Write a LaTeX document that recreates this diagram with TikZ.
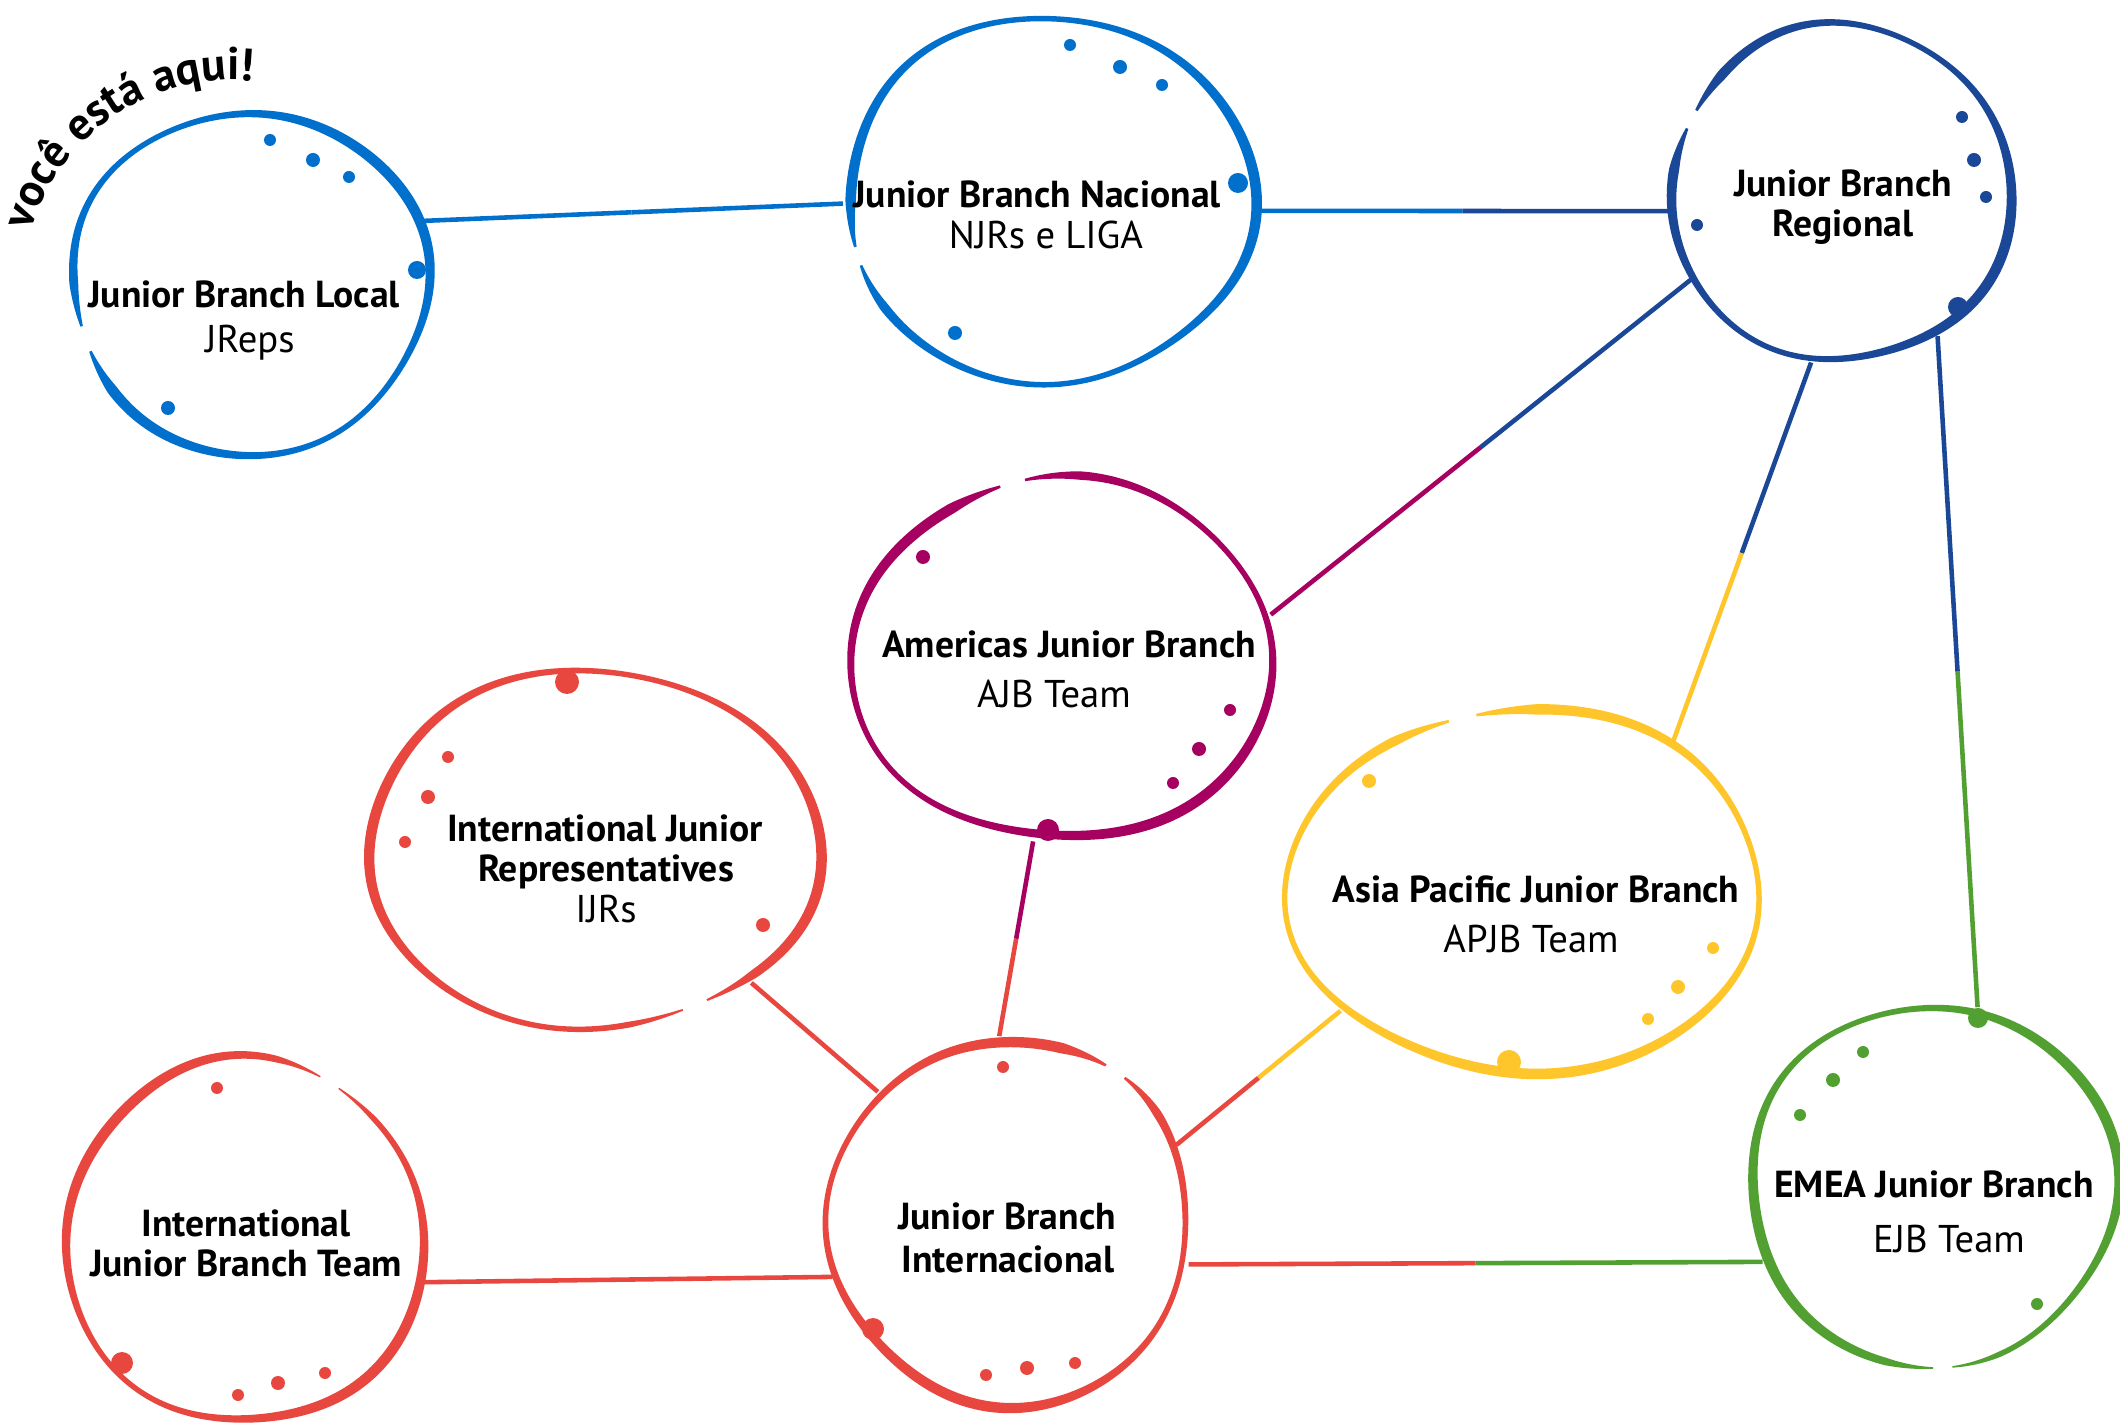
\documentclass[tikz,border=0pt]{standalone}
\usepackage{fontspec}
\setmainfont{PT Sans}
\usetikzlibrary{shapes.geometric,decorations.text}
\definecolor{cblue}{HTML}{0070CC}
\definecolor{cnavy}{HTML}{1B4797}
\definecolor{cmag}{HTML}{A60060}
\definecolor{cyel}{HTML}{FFC62B}
\definecolor{cgrn}{HTML}{52A032}
\definecolor{cred}{HTML}{E8473F}
% hand-drawn ring: cx cy rx ry colour start end phase
\newcommand\ring[8]{%
  \fill[#5] plot[smooth, domain=#6:#7, samples=120, variable=\u]
    ({#1+(#3*wob(\u,#8)+hw(\u,#6,#7,#8))*cos(\u)},{#2-(#4*wob(\u,#8)+hw(\u,#6,#7,#8))*sin(\u)})
    -- plot[smooth, domain=#7:#6, samples=120, variable=\u]
    ({#1+(#3*wob(\u,#8)-hw(\u,#6,#7,#8))*cos(\u)},{#2-(#4*wob(\u,#8)-hw(\u,#6,#7,#8))*sin(\u)})
    -- cycle;}
% two-coloured connector: from, to, colour A, colour B, midpoint name
\newcommand\link[5]{%
  \path (#1) -- (#2) coordinate[pos=.5] (#5);
  \draw[conn,#3] (#1) -- (#5);
  \draw[conn,#4] (#5) -- (#2);}
\newcommand\blob[4]{\fill[#1] (#2,#3) circle[radius=#4];}
\begin{document}
\begin{tikzpicture}[x=0.01cm,y=-0.01cm,
  declare function={
    wob(\t,\p)=1+0.016*sin(3*\t+\p)+0.007*sin(5*\t+2*\p);
    hw(\t,\a,\b,\p)=(4.0+1.3*sin(2*\t+\p))*min(1,0.25+(\t-\a)/20,0.25+(\b-\t)/20);
  },
  hub/.style={ellipse, inner sep=0pt, outer sep=0pt},
  conn/.style={line width=1.3pt},
  ttl/.style={anchor=base, inner sep=0pt, font=\bfseries\fontsize{10.7}{12}\selectfont, text=black},
  sub/.style={anchor=base, inner sep=0pt, font=\fontsize{11}{12}\selectfont, text=black},
]
\useasboundingbox (0,0) rectangle (2120,1428);
\fill[white] (0,0) rectangle (2120,1428);

% hub nodes (outline drawn separately)
\node[hub, minimum width=3.64cm, minimum height=3.50cm] (L) at (250,283) {};
\node[hub, minimum width=4.14cm, minimum height=3.74cm] (N) at (1050,200) {};
\node[hub, minimum width=3.48cm, minimum height=3.44cm] (R) at (1841,193) {};
\node[hub, minimum width=4.30cm, minimum height=3.68cm] (A) at (1062,659) {};
\node[hub, minimum width=4.82cm, minimum height=3.72cm] (P) at (1525,891) {};
\node[hub, minimum width=3.74cm, minimum height=3.68cm] (E) at (1933,1186) {};
\node[hub, minimum width=4.60cm, minimum height=3.66cm] (J) at (593,850) {};
\node[hub, minimum width=3.66cm, minimum height=3.72cm] (T) at (245,1241) {};
\node[hub, minimum width=3.68cm, minimum height=3.74cm] (I) at (1009,1223) {};

% connectors
\link{L.20}{N.181}{cblue}{cblue}{m1}
\link{N.357}{R.186}{cblue}{cnavy}{m2}
\link{R.210}{A.12}{cnavy}{cmag}{m3}
\link{R.260}{P.45}{cnavy}{cyel}{m4}
\link{R.304}{E.76}{cnavy}{cgrn}{m5}
\link{A.261}{I.93}{cmag}{cred}{m6}
\link{J.320}{I.135}{cred}{cred}{m7}
\link{P.213}{I.25}{cyel}{cred}{m8}
\link{T.347}{I.197}{cred}{cred}{m9}
\link{I.347}{E.204}{cred}{cgrn}{m10}

% rings
\ring{250}{283}{178}{171}{cblue}{204}{555}{20}
\ring{1050}{200}{203}{183}{cblue}{201}{555}{80}
\ring{1841}{193}{170}{168}{cnavy}{157}{510}{140}
\ring{1062}{659}{211}{180}{cmag}{107}{460}{200}
\ring{1525}{891}{237}{182}{cyel}{109}{462}{260}
\ring{1933}{1186}{183}{180}{cgrn}{276}{630}{40}
\ring{593}{850}{226}{179}{cred}{301}{654}{110}
\ring{245}{1241}{179}{182}{cred}{65}{418}{170}
\ring{1009}{1223}{180}{183}{cred}{58}{411}{300}

% decorative dots
\blob{cblue}{270}{140}{6}\blob{cblue}{313}{160}{7}\blob{cblue}{349}{177}{6}
\blob{cblue}{417}{270}{9}\blob{cblue}{168}{408}{7}
\blob{cblue}{1070}{45}{6}\blob{cblue}{1120}{67}{7}\blob{cblue}{1162}{85}{6}
\blob{cblue}{1238}{183}{10}\blob{cblue}{955}{333}{7}
\blob{cnavy}{1962}{117}{6}\blob{cnavy}{1974}{160}{7}\blob{cnavy}{1986}{197}{6}
\blob{cnavy}{1697}{225}{6}\blob{cnavy}{1958}{307}{10}
\blob{cmag}{923}{557}{7}\blob{cmag}{1230}{710}{6}\blob{cmag}{1199}{749}{7}
\blob{cmag}{1173}{783}{6}\blob{cmag}{1048}{830}{11}
\blob{cyel}{1369}{781}{7}\blob{cyel}{1713}{948}{6}\blob{cyel}{1678}{987}{7}
\blob{cyel}{1648}{1019}{6}\blob{cyel}{1509}{1062}{12}
\blob{cgrn}{1863}{1052}{6}\blob{cgrn}{1833}{1080}{7}\blob{cgrn}{1800}{1115}{6}
\blob{cgrn}{2037}{1304}{6}\blob{cgrn}{1978}{1018}{10}
\blob{cred}{567}{682}{12}\blob{cred}{448}{757}{6}\blob{cred}{428}{797}{7}
\blob{cred}{405}{842}{6}\blob{cred}{763}{925}{7}
\blob{cred}{217}{1088}{6}\blob{cred}{122}{1363}{11}\blob{cred}{238}{1395}{6}
\blob{cred}{278}{1383}{7}\blob{cred}{325}{1373}{6}
\blob{cred}{1003}{1067}{6}\blob{cred}{873}{1329}{11}\blob{cred}{986}{1375}{6}
\blob{cred}{1027}{1368}{7}\blob{cred}{1075}{1363}{6}

% texts
\node[ttl] (Lt) at (244,308) {Junior Branch Local};
\node[sub] (Ls) at (250,353) {JReps};
\node[ttl] (Nt) at (1037,208) {Junior Branch Nacional};
\node[sub] (Ns) at (1046,249) {NJRs e LIGA};
\node[ttl] (Rt) at (1843,197) {Junior Branch};
\node[ttl] (Rt2) at (1843,237) {Regional};
\node[ttl] (At) at (1069,658) {Americas Junior Branch};
\node[sub] (As) at (1054,708) {AJB Team};
\node[ttl] (Pt) at (1536,903) {Asia Pacific Junior Branch};
\node[sub] (Ps) at (1531,953) {APJB Team};
\node[ttl] (Et) at (1934,1198) {EMEA Junior Branch};
\node[sub] (Es) at (1949,1252) {EJB Team};
\node[ttl] (Jt) at (605,842) {International Junior};
\node[ttl] (Jt2) at (606,882) {Representatives};
\node[sub] (Js) at (606,923) {IJRs};
\node[ttl] (Tt) at (246,1237) {International};
\node[ttl] (Tt2) at (246,1277) {Junior Branch Team};
\node[ttl] (It) at (1007,1230) {Junior Branch};
\node[ttl] (It2) at (1008,1272) {Internacional};

% curved label
\path[decorate, decoration={text along path, text align=center,
  text={|\bfseries\fontsize{13}{14}\selectfont|você está aqui!}}]
  (232,290) ++(-176:210) arc[start angle=-176, end angle=-72, radius=210];
\end{tikzpicture}
\end{document}
